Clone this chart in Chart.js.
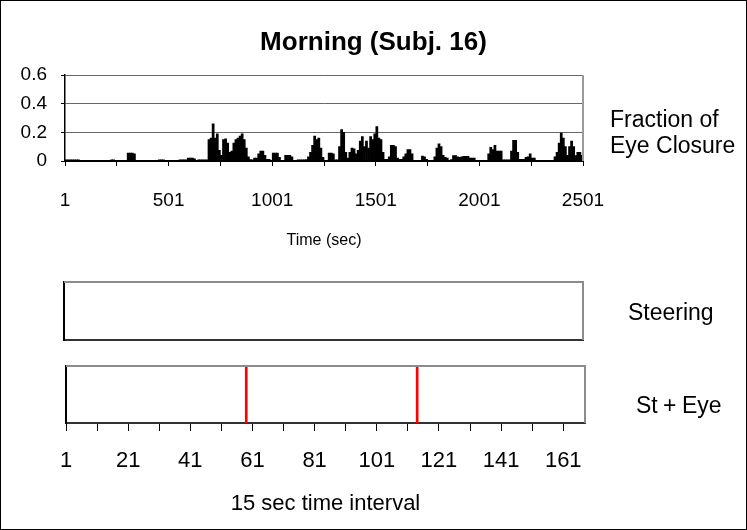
<!DOCTYPE html>
<html>
<head>
<meta charset="utf-8">
<title>Morning (Subj. 16)</title>
<script src="https://cdn.jsdelivr.net/npm/chart.js@4/dist/chart.umd.min.js"></script>
<style>
  html, body { margin: 0; padding: 0; background: #fff; }
  body { width: 747px; height: 530px; position: relative; overflow: hidden;
         font-family: "Liberation Sans", Arial, sans-serif; color: #000; }
  #outline { position: absolute; left: 0; top: 0; width: 745px; height: 528px;
             border: 1px solid #000; background: #fff; }
  canvas { position: absolute; left: 0; }
  .side { position: absolute; font-size: 23px; line-height: 26px; white-space: nowrap; }
</style>
</head>
<body>
<div id="outline"></div>
<canvas id="eyeChart" width="747" height="260" style="top:0;width:747px;height:260px"></canvas>
<canvas id="steerChart" width="747" height="93" style="top:262px;width:747px;height:93px"></canvas>
<canvas id="comboChart" width="747" height="175" style="top:355px;width:747px;height:175px"></canvas>
<div class="side" style="left:610px;top:106px">Fraction of<br>Eye Closure</div>
<div class="side" style="left:628px;top:299px">Steering</div>
<div class="side" style="left:636px;top:392px;word-spacing:-1px">St + Eye</div>
<script>
// Fraction of eye closure, one value per 10-second bin (bin i starts at second 1 + 10*i)
const binSeconds = 10;
const eyeClosure = [
  0.008,0.008,0.008,0.008,0.008,0.008,0.008,0,0,0,
  0,0,0,0,0,0,0,0,0,0,
  0,0,0.008,0.008,0,0,0,0,0.005,0.005,
  0.055,0.055,0.055,0.05,0.005,0,0,0,0,0,
  0,0,0,0,0,0.008,0.008,0.008,0,0,
  0,0,0,0,0,0.008,0.008,0.008,0.008,0.02,
  0.02,0.02,0.015,0.005,0.008,0.008,0.008,0.008,0.008,0.15,
  0.16,0.26,0.16,0.19,0.075,0.04,0.15,0.155,0.125,0.06,
  0.07,0.125,0.15,0.16,0.175,0.19,0.15,0.09,0.03,0.01,
  0.008,0.02,0.02,0.05,0.07,0.07,0.04,0.012,0.012,0.005,
  0.055,0.055,0.055,0.025,0.005,0.005,0.04,0.04,0.04,0.03,
  0.005,0.005,0.008,0.008,0.008,0.008,0.01,0.03,0.06,0.11,
  0.175,0.15,0.16,0.09,0.025,0.005,0.005,0.055,0.055,0.05,
  0.008,0.008,0.1,0.22,0.2,0.06,0.02,0.06,0.09,0.085,
  0.05,0.075,0.14,0.17,0.1,0.14,0.09,0.17,0.15,0.19,
  0.24,0.16,0.15,0.06,0.012,0.012,0.03,0.11,0.11,0.1,
  0.02,0.012,0.012,0.03,0.05,0.08,0.08,0.05,0,0,
  0,0,0.035,0.03,0.012,0.005,0.005,0.005,0.03,0.09,
  0.12,0.1,0.04,0.025,0.02,0.005,0.01,0.038,0.038,0.03,
  0.025,0.03,0.033,0.033,0.033,0.02,0.02,0.02,0.005,0.005,
  0.005,0.005,0.005,0.005,0.05,0.095,0.08,0.11,0.07,0.07,
  0.07,0.008,0.008,0.008,0.008,0.07,0.145,0.145,0.06,0.012,
  0.012,0.012,0.025,0.03,0.05,0.02,0.02,0.005,0.005,0.005,
  0.005,0.005,0.005,0.005,0.005,0.005,0.03,0.06,0.125,0.195,
  0.16,0.1,0.04,0.1,0.14,0.1,0.038,0.06,0.06,0.04
];
const timeTickMarks = [1, 251, 501, 751, 1001, 1251, 1501, 1751, 2001, 2251, 2501];
const timeTickLabels = [1, 501, 1001, 1501, 2001, 2501];
const eyeTicks = [0, 0.2, 0.4, 0.6];

// 15-second intervals flagged by each detector
const intervalCount = 168;
const steeringFlags = [];
const stEyeFlags = [59, 114];
const intervalTickMarks = [1, 11, 21, 31, 41, 51, 61, 71, 81, 91, 101, 111, 121, 131, 141, 151, 161];
const intervalTickLabels = [1, 21, 41, 61, 81, 101, 121, 141, 161];

Chart.defaults.font.family = '"Liberation Sans", Arial, sans-serif';
Chart.defaults.color = '#000';

// grey top / right edges of a plot box
const panelFrame = {
  id: 'panelFrame',
  afterDatasetsDraw(chart, args, opts) {
    const a = chart.chartArea, ctx = chart.ctx;
    ctx.save();
    ctx.lineWidth = opts.width || 2;
    ctx.strokeStyle = opts.color || '#8c8c8c';
    ctx.beginPath();
    if (opts.top) { ctx.moveTo(a.left, a.top); ctx.lineTo(a.right + 1, a.top); }
    if (opts.right) { ctx.moveTo(a.right, a.top); ctx.lineTo(a.right, a.bottom); }
    ctx.stroke();
    ctx.restore();
  }
};

const noUi = { legend: { display: false }, tooltip: { enabled: false } };

// empty right-hand gutter that keeps room for the series captions
const gutter = width => ({
  position: 'right', display: true,
  afterFit: s => { s.width = width; },
  ticks: { display: false }, grid: { display: false }, border: { display: false }
});

// top panel: eye closure over time
const eyePoints = eyeClosure.map((v, i) => ({ x: 1 + i * binSeconds + binSeconds / 2, y: v }));
new Chart(document.getElementById('eyeChart'), {
  type: 'bar',
  data: { datasets: [{ data: eyePoints, backgroundColor: '#000', borderWidth: 0,
                       categoryPercentage: 1, barPercentage: 1 }] },
  options: {
    responsive: false, animation: false, devicePixelRatio: 1,
    layout: { padding: 0 },
    plugins: Object.assign({}, noUi, {
      title: { display: true, text: 'Morning (Subj. 16)', color: '#000',
               font: { size: 26, weight: 'bold' }, padding: { top: 27, bottom: 17 } },
      panelFrame: { right: true, color: '#9a9a9a', width: 2 }
    }),
    scales: {
      x: {
        type: 'linear', min: 1, max: 2501, offset: false,
        afterBuildTicks: s => { s.ticks = timeTickMarks.map(v => ({ value: v })); },
        afterFit: s => { s.height = 99; },
        ticks: { autoSkip: false, maxRotation: 0, padding: 23, font: { size: 19 },
                 callback: v => timeTickLabels.includes(v) ? String(v) : '' },
        grid: { drawOnChartArea: false, drawTicks: true, tickLength: 5, tickColor: '#000', offset: false },
        border: { color: '#000', width: 2 },
        title: { display: true, text: 'Time (sec)', font: { size: 16 }, padding: { top: 0, bottom: 10 } }
      },
      y: {
        min: 0, max: 0.6,
        afterBuildTicks: s => { s.ticks = eyeTicks.map(v => ({ value: v })); },
        afterFit: s => { s.width = 65; },
        ticks: { padding: 14, font: { size: 19 } },
        grid: { color: '#666', tickLength: 4, tickColor: '#000' },
        border: { color: '#000', width: 1.5 }
      },
      side: gutter(164)
    }
  },
  plugins: [panelFrame]
});

function flagPanel(id, flags, box, showAxis) {
  return new Chart(document.getElementById(id), {
    type: 'bar',
    data: { datasets: [{ data: flags.map(k => ({ x: k, y: 1 })), backgroundColor: '#ff0000',
                         borderWidth: 0, barThickness: 2 }] },
    options: {
      responsive: false, animation: false, devicePixelRatio: 1,
      layout: { padding: { left: 0, right: box.right, top: box.top, bottom: 0 } },
      plugins: Object.assign({}, noUi, { panelFrame: { top: true, right: true, color: '#8c8c8c', width: 2 } }),
      scales: {
        x: {
          type: 'linear', min: 1, max: intervalCount, offset: false,
          afterBuildTicks: s => { s.ticks = intervalTickMarks.map(v => ({ value: v })); },
          afterFit: s => { s.height = box.axis; },
          ticks: { display: showAxis, autoSkip: false, maxRotation: 0, padding: 17, font: { size: 22 },
                   callback: v => intervalTickLabels.includes(v) ? String(v) : '' },
          grid: { display: showAxis, drawOnChartArea: false, drawTicks: true, tickLength: 8,
                  tickColor: '#000', offset: false },
          border: { color: '#333', width: 2 },
          title: { display: showAxis, text: '15 sec time interval', font: { size: 22 },
                   padding: { top: 0, bottom: 13 } }
        },
        y: {
          min: 0, max: 1,
          afterFit: s => { s.width = box.left; },
          ticks: { display: false },
          grid: { display: false },
          border: { color: '#000', width: 2 }
        }
      }
    },
    plugins: [panelFrame]
  });
}

flagPanel('steerChart', steeringFlags, { left: 64, right: 164, top: 20, axis: 15 }, false);
flagPanel('comboChart', stEyeFlags, { left: 66, right: 162, top: 11, axis: 107 }, true);
</script>
</body>
</html>
